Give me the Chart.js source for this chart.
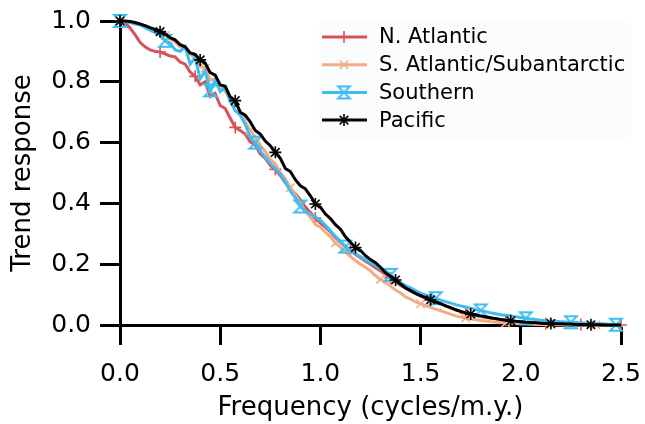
<!DOCTYPE html>
<html lang="en">
<head>
    <meta charset="UTF-8">
    <title>Trend response</title>
    <style>
        body {
            margin: 0;
            padding: 0;
            background: #fff;
        }
        #wrap {
            width: 645px;
            height: 424px;
        }
    </style>
</head>
<body>
    <div id="wrap">
        <canvas id="myChart" width="645" height="424"></canvas>
    </div>

    <script src="https://cdn.jsdelivr.net/npm/chart.js"></script>
    <script>
        // frequency axis (cycles/m.y.)
        var freq = [0.000, 0.025, 0.050, 0.075, 0.100, 0.125, 0.150, 0.175, 0.200, 0.225,
                    0.250, 0.275, 0.300, 0.325, 0.350, 0.375, 0.400, 0.425, 0.450, 0.475,
                    0.500, 0.525, 0.550, 0.575, 0.600, 0.625, 0.650, 0.675, 0.700, 0.725,
                    0.750, 0.775, 0.800, 0.825, 0.850, 0.875, 0.900, 0.925, 0.950, 0.975,
                    1.000, 1.025, 1.050, 1.075, 1.100, 1.125, 1.150, 1.175, 1.200, 1.225,
                    1.250, 1.275, 1.300, 1.325, 1.350, 1.375, 1.400, 1.425, 1.450, 1.475,
                    1.500, 1.525, 1.550, 1.575, 1.600, 1.625, 1.650, 1.675, 1.700, 1.725,
                    1.750, 1.775, 1.800, 1.825, 1.850, 1.875, 1.900, 1.925, 1.950, 1.975,
                    2.000, 2.025, 2.050, 2.075, 2.100, 2.125, 2.150, 2.175, 2.200, 2.225,
                    2.250, 2.275, 2.300, 2.325, 2.350, 2.375, 2.400, 2.425, 2.450, 2.475, 2.500];

        var nAtlantic = [1.000, 0.995, 0.977, 0.955, 0.930, 0.915, 0.905, 0.900, 0.898, 0.892,
                         0.885, 0.882, 0.865, 0.858, 0.832, 0.818, 0.790, 0.800, 0.752, 0.762,
                         0.722, 0.712, 0.680, 0.650, 0.640, 0.628, 0.602, 0.592, 0.562, 0.548,
                         0.525, 0.512, 0.492, 0.468, 0.448, 0.432, 0.412, 0.388, 0.370, 0.352,
                         0.335, 0.322, 0.306, 0.288, 0.272, 0.258, 0.246, 0.232, 0.221, 0.210,
                         0.200, 0.188, 0.178, 0.165, 0.155, 0.142, 0.130, 0.121, 0.112, 0.103,
                         0.095, 0.088, 0.082, 0.076, 0.070, 0.063, 0.056, 0.050, 0.044, 0.039,
                         0.034, 0.031, 0.028, 0.025, 0.022, 0.020, 0.018, 0.016, 0.014, 0.012,
                         0.011, 0.009, 0.008, 0.007, 0.006, 0.005, 0.005, 0.004, 0.004, 0.003,
                         0.003, 0.002, 0.002, 0.001, 0.001, 0.001, 0.001, 0.000, 0.000, 0.000, 0.000];

        var sAtlantic = [1.000, 0.999, 0.997, 0.994, 0.990, 0.984, 0.975, 0.970, 0.960, 0.952,
                         0.942, 0.930, 0.915, 0.910, 0.892, 0.878, 0.850, 0.845, 0.805, 0.810,
                         0.782, 0.770, 0.740, 0.735, 0.702, 0.668, 0.640, 0.618, 0.592, 0.570,
                         0.545, 0.530, 0.502, 0.480, 0.452, 0.428, 0.402, 0.372, 0.355, 0.330,
                         0.322, 0.305, 0.290, 0.270, 0.256, 0.240, 0.225, 0.212, 0.200, 0.190,
                         0.178, 0.162, 0.150, 0.140, 0.128, 0.115, 0.105, 0.092, 0.085, 0.076,
                         0.070, 0.064, 0.058, 0.052, 0.047, 0.041, 0.036, 0.030, 0.026, 0.023,
                         0.020, 0.017, 0.015, 0.013, 0.011, 0.009, 0.008, 0.007, 0.006, 0.005,
                         0.004, 0.004, 0.003, 0.002, 0.002, 0.001, 0.001, 0.001, 0.001, 0.000,
                         0.000, 0.000, 0.000, 0.000, 0.000, 0.000, 0.000, 0.000, 0.000, 0.000, 0.000];

        var southern = [1.000, 0.998, 0.995, 0.990, 0.988, 0.978, 0.970, 0.962, 0.955, 0.935,
                        0.928, 0.905, 0.900, 0.915, 0.858, 0.880, 0.810, 0.835, 0.772, 0.805,
                        0.768, 0.782, 0.735, 0.705, 0.690, 0.660, 0.618, 0.600, 0.572, 0.552,
                        0.532, 0.515, 0.497, 0.470, 0.440, 0.418, 0.390, 0.375, 0.365, 0.355,
                        0.345, 0.328, 0.310, 0.292, 0.275, 0.258, 0.245, 0.235, 0.225, 0.215,
                        0.205, 0.195, 0.185, 0.175, 0.165, 0.152, 0.140, 0.130, 0.122, 0.113,
                        0.105, 0.099, 0.093, 0.088, 0.082, 0.077, 0.072, 0.067, 0.063, 0.059,
                        0.055, 0.051, 0.048, 0.044, 0.040, 0.037, 0.034, 0.032, 0.030, 0.027,
                        0.025, 0.022, 0.020, 0.018, 0.016, 0.014, 0.013, 0.012, 0.011, 0.010,
                        0.009, 0.008, 0.007, 0.006, 0.005, 0.004, 0.004, 0.003, 0.002, 0.001, 0.001];

        var pacific = [1.000, 1.000, 0.998, 0.995, 0.990, 0.985, 0.978, 0.972, 0.965, 0.958,
                       0.945, 0.938, 0.922, 0.915, 0.895, 0.890, 0.872, 0.862, 0.830, 0.822,
                       0.790, 0.785, 0.750, 0.738, 0.700, 0.690, 0.668, 0.640, 0.628, 0.605,
                       0.590, 0.568, 0.548, 0.515, 0.505, 0.478, 0.458, 0.448, 0.425, 0.398,
                       0.388, 0.365, 0.350, 0.330, 0.315, 0.290, 0.272, 0.255, 0.245, 0.228,
                       0.215, 0.205, 0.190, 0.172, 0.160, 0.148, 0.135, 0.122, 0.113, 0.104,
                       0.097, 0.090, 0.083, 0.076, 0.070, 0.063, 0.057, 0.050, 0.045, 0.040,
                       0.036, 0.033, 0.030, 0.027, 0.024, 0.021, 0.018, 0.016, 0.014, 0.012,
                       0.011, 0.009, 0.008, 0.007, 0.006, 0.005, 0.005, 0.004, 0.004, 0.003,
                       0.003, 0.002, 0.002, 0.002, 0.001, 0.001, 0.001, 0.000, 0.000, 0.000, 0.000];

        var xTicks = [0, 0.5, 1.0, 1.5, 2.0, 2.5];
        var yTicks = [0, 0.2, 0.4, 0.6, 0.8, 1.0];

        var FONT = 'DejaVu Sans';
        Chart.defaults.font.family = FONT;
        Chart.defaults.color = '#000';

        // hourglass marker for the Southern series
        function hourglass(color) {
            var c = document.createElement('canvas');
            c.width = 16; c.height = 16;
            var g = c.getContext('2d');
            g.strokeStyle = color;
            g.lineWidth = 1.8;
            g.beginPath();
            g.moveTo(2, 2); g.lineTo(14, 2); g.lineTo(2, 14); g.lineTo(14, 14);
            g.closePath();
            g.stroke();
            return c;
        }

        // markers only on every n-th point
        function markerEvery(step, r) {
            return function (ctx) {
                var i = ctx.dataIndex;
                var k = Math.round(i / step);
                return Math.round(k * step) === i ? r : 0;
            };
        }

        function points(ys) {
            return ys.map(function (y, i) { return { x: freq[i], y: y }; });
        }

        function series(label, ys, color, style, step, order) {
            return {
                label: label,
                data: points(ys),
                borderColor: color,
                backgroundColor: color,
                borderWidth: 3,
                pointStyle: style,
                pointRadius: markerEvery(step, 6),
                pointHoverRadius: 0,
                pointBorderColor: color,
                pointBorderWidth: 1.6,
                tension: 0,
                clip: false,
                order: order
            };
        }

        var datasets = [
            series('N. Atlantic', nAtlantic, '#d6535a', 'cross', 7.7, 4),
            series('S. Atlantic/Subantarctic', sAtlantic, '#f3ab85', 'crossRot', 8.6, 3),
            series('Southern', southern, '#3ebdee', hourglass('#3ebdee'), 9, 2),
            series('Pacific', pacific, '#000000', 'star', 7.8, 1)
        ];

        // legend box inside the plot, top right
        var insideLegend = {
            id: 'insideLegend',
            afterDatasetsDraw: function (chart) {
                var ctx = chart.ctx;
                var left = 319, top = 22, w = 312, h = 116, rowH = 27.7;
                ctx.save();
                ctx.fillStyle = 'rgba(240,245,250,0.35)';
                ctx.fillRect(left, top, w, h);
                ctx.font = '21px "' + FONT + '"';
                ctx.textBaseline = 'middle';
                ctx.textAlign = 'left';
                datasets.forEach(function (ds, i) {
                    var y = top + 15 + i * rowH;
                    ctx.strokeStyle = ds.borderColor;
                    ctx.lineWidth = 3;
                    ctx.beginPath();
                    ctx.moveTo(left + 3, y);
                    ctx.lineTo(left + 48, y);
                    ctx.stroke();
                    ctx.lineWidth = 1.6;
                    Chart.helpers.drawPoint(ctx, {
                        pointStyle: ds.pointStyle, rotation: 0, radius: 6, borderWidth: 1.6
                    }, left + 25, y);
                    ctx.fillStyle = '#000';
                    ctx.fillText(ds.label, left + 60, y + 1);
                });
                ctx.restore();
            }
        };

        var ctx = document.getElementById('myChart').getContext('2d');
        var myChart = new Chart(ctx, {
            type: 'line',
            data: { datasets: datasets },
            plugins: [insideLegend],
            options: {
                responsive: false,
                animation: false,
                layout: { padding: { top: 21, right: 24, left: 0, bottom: 0 } },
                plugins: {
                    legend: { display: false },
                    tooltip: { enabled: false }
                },
                scales: {
                    x: {
                        type: 'linear',
                        min: 0,
                        max: 2.5,
                        border: { color: '#000', width: 3 },
                        grid: { drawOnChartArea: false, drawTicks: true, tickLength: 20, tickWidth: 3, tickColor: '#000' },
                        afterBuildTicks: function (s) { s.ticks = xTicks.map(function (v) { return { value: v }; }); },
                        ticks: {
                            color: '#000',
                            padding: 14,
                            maxRotation: 0,
                            font: { size: 25 },
                            callback: function (v) { return Number(v).toFixed(1); }
                        },
                        title: {
                            display: true,
                            text: 'Frequency (cycles/m.y.)',
                            color: '#000',
                            font: { size: 26 },
                            padding: { top: 0, bottom: 0 }
                        },
                        afterFit: function (s) {
                            s.height = 99;
                            s.paddingLeft = 0;
                            s.paddingRight = 0;
                        }
                    },
                    y: {
                        min: 0,
                        max: 1,
                        border: { color: '#000', width: 3 },
                        grid: { drawOnChartArea: false, drawTicks: true, tickLength: 20, tickWidth: 3, tickColor: '#000' },
                        afterBuildTicks: function (s) { s.ticks = yTicks.map(function (v) { return { value: v }; }); },
                        ticks: {
                            color: '#000',
                            padding: 9,
                            font: { size: 25 },
                            callback: function (v) { return Number(v).toFixed(1); }
                        },
                        title: {
                            display: true,
                            text: 'Trend response',
                            color: '#000',
                            font: { size: 26 },
                            padding: { top: 8, bottom: 0 }
                        },
                        afterFit: function (s) {
                            s.width = 120;
                            s.paddingTop = 0;
                            s.paddingBottom = 0;
                        }
                    }
                }
            }
        });
    </script>
</body>
</html>
